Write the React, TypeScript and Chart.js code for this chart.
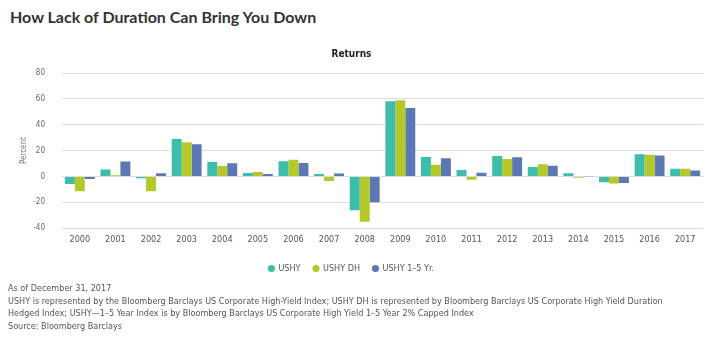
import React, { useEffect, useRef } from "react";
import { Chart, registerables } from "chart.js";

Chart.register(...registerables);

const years = ["2000","2001","2002","2003","2004","2005","2006","2007","2008","2009","2010","2011","2012","2013","2014","2015","2016","2017"];
const ushy = [-5.9, 5.3, -1.4, 29.0, 11.1, 2.7, 11.8, 1.9, -26.2, 58.2, 15.1, 5.0, 15.8, 7.4, 2.5, -4.5, 17.1, 6.0];
const ushyDH = [-11.5, 1.0, -11.5, 26.5, 8.0, 3.5, 13.0, -3.5, -35.0, 59.0, 9.0, -2.5, 13.5, 9.5, -1.0, -5.5, 16.8, 5.9];
const ushy15 = [-2.0, 11.5, 2.5, 25.0, 10.3, 2.0, 10.5, 2.3, -20.0, 53.0, 14.0, 2.8, 14.8, 8.2, 0.2, -5.0, 16.3, 4.7];
const seriesNames = ["USHY", "USHY DH", "USHY 1\u20135 Yr."];
const seriesColors = ["#3fbdab", "#b4c82a", "#5b78b3"];
const yTicks = [-40, -20, 0, 20, 40, 60, 80];

const chartTitle = "How Lack of Duration Can Bring You Down";
const notes = [
  "As of December 31, 2017",
  "USHY is represented by the Bloomberg Barclays US Corporate High-Yield Index; USHY DH is represented by Bloomberg Barclays US Corporate High Yield Duration",
  "Hedged Index; USHY\u20141\u20135 Year Index is by Bloomberg Barclays US Corporate High Yield 1\u20135 Year 2% Capped Index",
  "Source: Bloomberg Barclays",
];

const FONT = "'Liberation Sans Narrow', 'DejaVu Sans Condensed', 'Liberation Sans', sans-serif";

export default function App() {
  const ref = useRef<HTMLCanvasElement | null>(null);
  useEffect(() => {
    if (!ref.current) return;
    const chart = new Chart(ref.current, {
      type: "bar",
      data: {
        labels: years,
        datasets: [ushy, ushyDH, ushy15].map((d, i) => ({
          label: seriesNames[i],
          data: d,
          backgroundColor: seriesColors[i],
          borderWidth: 0,
          categoryPercentage: 0.84,
          barPercentage: 1,
        })),
      },
      options: {
        animation: false,
        responsive: false,
        maintainAspectRatio: false,
        layout: { padding: { left: 0, right: 7, top: 0, bottom: 0 } },
        plugins: {
          title: {
            display: true,
            text: "Returns",
            color: "#222",
            font: { family: FONT, size: 10, weight: "bold" },
            padding: { top: 8, bottom: 13 },
          },
          legend: {
            position: "bottom",
            labels: {
              usePointStyle: true,
              pointStyle: "circle",
              boxWidth: 5,
              boxHeight: 5,
              color: "#555",
              font: { family: FONT, size: 9 },
              padding: 13,
            },
          },
          tooltip: { enabled: false },
        },
        scales: {
          x: {
            grid: { display: false, drawTicks: false },
            border: { display: false },
            ticks: { color: "#555", font: { family: FONT, size: 9 }, padding: 6, maxRotation: 0 },
          },
          y: {
            min: -40,
            max: 80,
            afterBuildTicks: (s: any) => { s.ticks = yTicks.map((v) => ({ value: v })); },
            afterFit: (s: any) => { s.width = 62; },
            grid: { color: "#dcdcdc", drawTicks: false, lineWidth: 1 },
            border: { display: false },
            ticks: { color: "#666", font: { family: FONT, size: 8 }, padding: 17 },
            title: { display: true, text: "Percent", color: "#777", font: { family: FONT, size: 8 }, padding: { top: 19, bottom: 0 } },
          },
        },
      },
    } as any);
    return () => chart.destroy();
  }, []);

  return (
    <div style={{ position: "fixed", left: 0, top: 0, width: 710, height: 351, background: "#fff", overflow: "hidden" }}>
      <div style={{ position: "absolute", left: 10, top: 7, fontFamily: "Lato, 'Open Sans', sans-serif", fontWeight: 700, fontSize: 16, color: "#333", whiteSpace: "nowrap" }}>
        {chartTitle}
      </div>
      <canvas ref={ref} width={710} height={243} style={{ position: "absolute", left: 0, top: 40, width: 710, height: 243 }} />
      <div style={{ position: "absolute", left: 8, top: 282, fontFamily: FONT, fontSize: 9, color: "#555", lineHeight: "12.5px" }}>
        {notes.map((n, i) => (
          <div key={i} style={{ whiteSpace: "nowrap" }}>{n}</div>
        ))}
      </div>
    </div>
  );
}
